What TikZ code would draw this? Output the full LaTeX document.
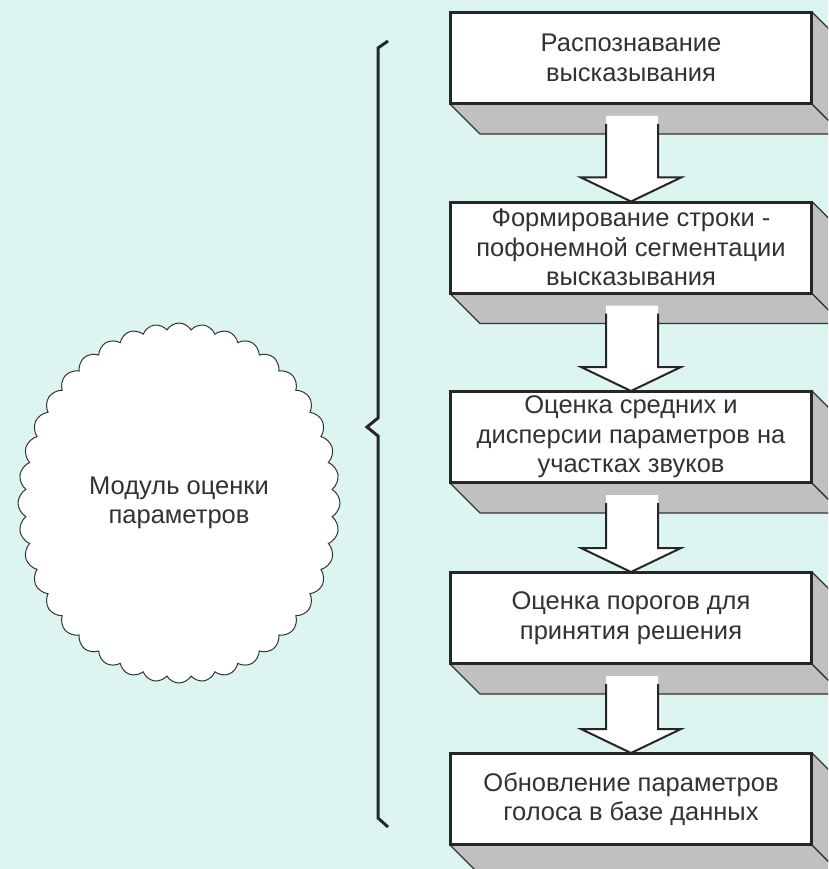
\documentclass[tikz,border=0pt]{standalone}
\usepackage{fontspec}
\setmainfont{Liberation Sans}
\usetikzlibrary{calc,shapes.symbols}
\definecolor{bgc}{RGB}{221,245,241}
\definecolor{sidec}{RGB}{192,192,192}
\definecolor{txtc}{RGB}{50,50,50}
\tikzset{
  stepbox/.style={draw=black!85, line width=2pt, fill=white, minimum width=360pt, minimum height=90pt, inner sep=0pt, align=center, text=txtc, font=\fontsize{25.5}{29.5}\selectfont},
  face/.style={fill=sidec, draw=black!80, line width=1.2pt, line join=round},
  arrowline/.style={draw=black!85, line width=2pt, line join=miter},
}
\begin{document}
\begin{tikzpicture}[x=1pt,y=-1pt]
\clip (0,0) rectangle (828,869);
\fill[bgc] (0,0) rectangle (828,869);
% boxes
\node[stepbox] (b1) at (631,58) {Распознавание\\высказывания};
\node[stepbox] (b2) at (631,247.5) {Формирование строки -\\пофонемной сегментации\\высказывания};
\node[stepbox] (b3) at (631,437) {Оценка средних и\\дисперсии параметров на\\участках звуков};
\node[stepbox] (b4) at (631,618) {Оценка порогов для\\принятия решения};
\node[stepbox] (b5) at (631,799) {Обновление параметров\\голоса в базе данных};
% 3D faces
\foreach \b in {b1,b2,b3,b4,b5}{
  \draw[face] (\b.south west) -- ($(\b.south west)+(30,30)$) -- ($(\b.south east)+(30,30)$) -- (\b.south east) -- cycle;
  \draw[face] (\b.north east) -- ($(\b.north east)+(30,30)$) -- ($(\b.south east)+(30,30)$) -- (\b.south east) -- cycle;
  \draw[draw=black!85, line width=2pt] (\b.south west) rectangle (\b.north east);
}
% block arrows
\foreach \a/\b in {b1/b2,b2/b3,b3/b4,b4/b5}{
  \fill[white] ($(\a.south)+(-25,12)$) -- ($(\b.north)+(-25,-24)$) -- ($(\b.north)+(-50,-24)$) -- ($(\b.north)+(0,0)$) -- ($(\b.north)+(50,-24)$) -- ($(\b.north)+(27,-24)$) -- ($(\a.south)+(27,12)$) -- cycle;
  \draw[arrowline] ($(\a.south)+(-25,20)$) -- ($(\b.north)+(-25,-24)$) -- ($(\b.north)+(-50,-24)$) -- ($(\b.north)+(0,0)$) -- ($(\b.north)+(50,-24)$) -- ($(\b.north)+(27,-24)$) -- ($(\a.south)+(27,20)$);
}
% cloud
\node[cloud, cloud puffs=40, cloud puff arc=120, draw=black!80, line width=1pt, fill=white, minimum width=322pt, minimum height=360pt, aspect=0.9, align=center, text=txtc, font=\fontsize{25.5}{29.5}\selectfont] (cl) at (179,503) {Модуль оценки\\параметров};
% brace
\coordinate (bt) at (388,41);
\coordinate (bb) at (388,827);
\coordinate (bm) at (367,427);
\draw[black!85, line width=3pt, line join=miter] (bt) -- (378,48) -- (378,418) -- (bm) -- (378,436) -- (378,818) -- (bb);
\end{tikzpicture}
\end{document}
